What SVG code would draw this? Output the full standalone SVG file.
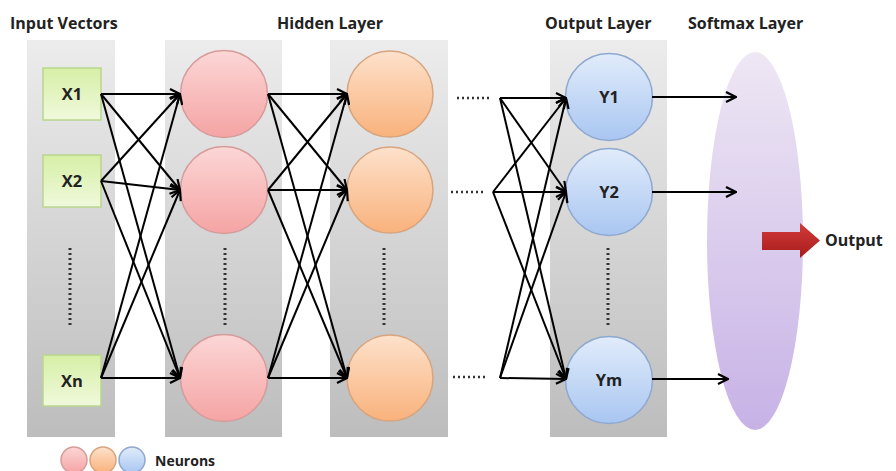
<svg xmlns="http://www.w3.org/2000/svg" width="896" height="471" viewBox="0 0 896 471">
  <defs>
    <linearGradient id="panelGrad" x1="0" y1="0" x2="0" y2="1">
      <stop offset="0" stop-color="#ececec"/>
      <stop offset="1" stop-color="#bdbdbd"/>
    </linearGradient>
    <linearGradient id="greenGrad" x1="0" y1="0" x2="0" y2="1">
      <stop offset="0" stop-color="#d6efa6"/>
      <stop offset="1" stop-color="#f0f9dc"/>
    </linearGradient>
    <linearGradient id="pinkGrad" x1="0" y1="0" x2="0" y2="1">
      <stop offset="0" stop-color="#fcd6d6"/>
      <stop offset="1" stop-color="#f5a4a4"/>
    </linearGradient>
    <linearGradient id="orangeGrad" x1="0" y1="0" x2="0" y2="1">
      <stop offset="0" stop-color="#fde1cb"/>
      <stop offset="1" stop-color="#f9b27c"/>
    </linearGradient>
    <linearGradient id="blueGrad" x1="0" y1="0" x2="0" y2="1">
      <stop offset="0" stop-color="#e1ecfb"/>
      <stop offset="1" stop-color="#a9c6f1"/>
    </linearGradient>
    <linearGradient id="softGrad" x1="0" y1="0" x2="0" y2="1">
      <stop offset="0" stop-color="#eee7f4"/>
      <stop offset="1" stop-color="#c7b2e6"/>
    </linearGradient>
    <linearGradient id="redGrad" x1="0" y1="0" x2="0" y2="1">
      <stop offset="0" stop-color="#d23a3a"/>
      <stop offset="1" stop-color="#a81c1c"/>
    </linearGradient>
    <marker id="arrow" viewBox="0 0 12 12" refX="11" refY="6" markerWidth="12" markerHeight="12" markerUnits="userSpaceOnUse" orient="auto">
      <path d="M1,1 L11,6 L1,11" fill="none" stroke="#000" stroke-width="2.2"/>
    </marker>
  </defs>
  <style>
    .panel { fill: url(#panelGrad); }
    .title { font-family: "Open Sans", "Liberation Sans", sans-serif; font-weight: bold; font-size: 16px; fill: #222; }
    .label { font-family: "Open Sans", "Liberation Sans", sans-serif; font-weight: bold; font-size: 16.5px; fill: #222; text-anchor: middle; }
    .inbox { fill: url(#greenGrad); stroke: #b9d68e; stroke-width: 1.5; }
    .pink { fill: url(#pinkGrad); stroke: #d69b9b; stroke-width: 1.5; }
    .orange { fill: url(#orangeGrad); stroke: #d8a47e; stroke-width: 1.5; }
    .blue { fill: url(#blueGrad); stroke: #8ea8cf; stroke-width: 1.5; }
    .vdots { stroke: #333; stroke-width: 3; stroke-dasharray: 2 3; fill: none; }
    .hdots { stroke: #333; stroke-width: 2.5; stroke-dasharray: 2 3; fill: none; }
    .conn line { stroke: #000; stroke-width: 2; marker-end: url(#arrow); }
  </style>

  <rect width="896" height="471" fill="#ffffff"/>

  <!-- Layer titles -->
  <text class="title" x="10" y="29">Input Vectors</text>
  <text class="title" x="277" y="29">Hidden Layer</text>
  <text class="title" x="545" y="29">Output Layer</text>
  <text class="title" x="688" y="29">Softmax Layer</text>

  <!-- Layer panels -->
  <rect class="panel" x="27" y="40" width="88" height="397"/>
  <rect class="panel" x="165" y="40" width="117" height="397"/>
  <rect class="panel" x="330" y="40" width="118" height="397"/>
  <rect class="panel" x="550" y="40" width="117" height="397"/>

  <!-- Softmax layer -->
  <g id="softmax">
    <ellipse cx="755" cy="241" rx="48" ry="189" fill="url(#softGrad)"/>
  </g>

  <!-- Elision dots -->
  <path class="vdots" d="M70,248 V326 M225,248 V326 M384,248 V326 M608,248 V326"/>
  <path class="hdots" d="M457,98 H491 M451,192 H485 M453,377 H487"/>

  <!-- Input vectors -->
  <g id="x1"><rect class="inbox" x="43" y="68" width="58" height="52"/><text class="label" x="72" y="100">X1</text></g>
  <g id="x2"><rect class="inbox" x="43" y="155" width="58" height="52"/><text class="label" x="72" y="187">X2</text></g>
  <g id="xn"><rect class="inbox" x="43" y="355" width="58" height="51"/><text class="label" x="72" y="387">Xn</text></g>

  <!-- Hidden layer 1 -->
  <g id="h1a"><circle class="pink" cx="224" cy="94" r="43.5"/></g>
  <g id="h1b"><circle class="pink" cx="224" cy="190" r="43.5"/></g>
  <g id="h1n"><circle class="pink" cx="224" cy="378" r="43.5"/></g>

  <!-- Hidden layer 2 -->
  <g id="h2a"><circle class="orange" cx="390" cy="94" r="43"/></g>
  <g id="h2b"><circle class="orange" cx="390" cy="190" r="43"/></g>
  <g id="h2n"><circle class="orange" cx="390" cy="378" r="43"/></g>

  <!-- Output layer -->
  <g id="y1"><circle class="blue" cx="609" cy="97" r="43.5"/><text class="label" x="609" y="103">Y1</text></g>
  <g id="y2"><circle class="blue" cx="609" cy="192" r="43.5"/><text class="label" x="609" y="198">Y2</text></g>
  <g id="ym"><circle class="blue" cx="609" cy="380" r="43.5"/><text class="label" x="609" y="386">Ym</text></g>

  <!-- Connectors -->
  <g class="conn">
    <!-- inputs to hidden layer 1 -->
    <line x1="101" y1="94" x2="180" y2="94"/>
    <line x1="101" y1="94" x2="180" y2="190"/>
    <line x1="101" y1="94" x2="180" y2="378"/>
    <line x1="101" y1="181" x2="180" y2="94"/>
    <line x1="101" y1="181" x2="180" y2="190"/>
    <line x1="101" y1="181" x2="180" y2="378"/>
    <line x1="101" y1="378" x2="180" y2="94"/>
    <line x1="101" y1="378" x2="180" y2="190"/>
    <line x1="101" y1="378" x2="180" y2="378"/>
    <!-- hidden layer 1 to hidden layer 2 -->
    <line x1="268" y1="94" x2="347" y2="94"/>
    <line x1="268" y1="94" x2="347" y2="190"/>
    <line x1="268" y1="94" x2="347" y2="378"/>
    <line x1="268" y1="190" x2="347" y2="94"/>
    <line x1="268" y1="190" x2="347" y2="190"/>
    <line x1="268" y1="190" x2="347" y2="378"/>
    <line x1="268" y1="378" x2="347" y2="94"/>
    <line x1="268" y1="378" x2="347" y2="190"/>
    <line x1="268" y1="378" x2="347" y2="378"/>
    <!-- last hidden layer to outputs -->
    <line x1="500" y1="98" x2="566" y2="98"/>
    <line x1="500" y1="98" x2="566" y2="192"/>
    <line x1="500" y1="98" x2="566" y2="379"/>
    <line x1="493" y1="192" x2="566" y2="98"/>
    <line x1="493" y1="192" x2="566" y2="192"/>
    <line x1="493" y1="192" x2="566" y2="379"/>
    <line x1="500" y1="378" x2="566" y2="98"/>
    <line x1="500" y1="378" x2="566" y2="192"/>
    <line x1="500" y1="378" x2="566" y2="379"/>
    <!-- outputs to softmax -->
    <line x1="652" y1="97" x2="736" y2="97"/>
    <line x1="652" y1="192" x2="736" y2="192"/>
    <line x1="652" y1="379" x2="728" y2="379"/>
  </g>

  <!-- Final output arrow -->
  <g id="output">
    <path d="M762,232 H800 V223 L820,240.5 L800,258 V250 H762 Z" fill="url(#redGrad)"/>
    <text class="title" x="825" y="246">Output</text>
  </g>

  <!-- Legend -->
  <g id="legend">
    <circle class="pink" cx="74" cy="460" r="13"/>
    <circle class="orange" cx="103" cy="460" r="13"/>
    <circle class="blue" cx="132" cy="460" r="13"/>
    <text class="title" x="155" y="466" style="font-size:14px">Neurons</text>
  </g>
</svg>
